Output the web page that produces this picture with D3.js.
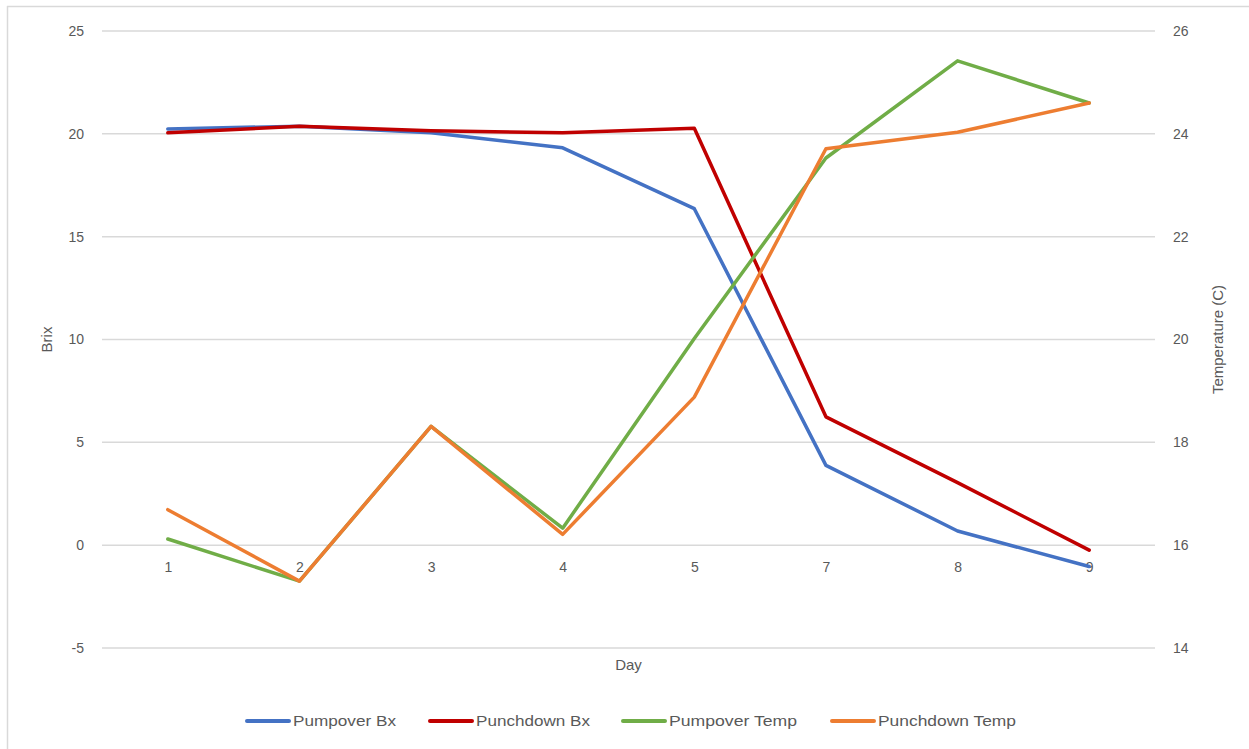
<!DOCTYPE html>
<html>
<head>
<meta charset="utf-8">
<script src="https://cdn.jsdelivr.net/npm/d3@7"></script>
<style>
  html, body { margin: 0; padding: 0; background: #fff; }
  svg { display: block; font-family: "Liberation Sans", Arial, sans-serif; }
</style>
</head>
<body>
<svg id="chart" width="1249" height="749"></svg>
<script>
// Fermentation log: sugar (Brix) and must temperature by day
const days = ["1", "2", "3", "4", "5", "7", "8", "9"];
const pumpoverBx = [20.24, 20.37, 20.05, 19.32, 16.36, 3.88, 0.69, -1.04];
const punchdownBx = [20.05, 20.37, 20.15, 20.05, 20.27, 6.24, 3.04, -0.24];
const pumpoverTemp = [16.12, 15.30, 18.31, 16.33, 20.02, 23.53, 25.42, 24.60];
const punchdownTemp = [16.69, 15.30, 18.31, 16.21, 18.88, 23.71, 24.03, 24.60];
const brixTicks = [-5, 0, 5, 10, 15, 20, 25];
const tempTicks = [14, 16, 18, 20, 22, 24, 26];

const series = [
  { name: "Pumpover Bx", values: pumpoverBx, axis: "left", color: "#4472C4" },
  { name: "Punchdown Bx", values: punchdownBx, axis: "left", color: "#C00000" },
  { name: "Pumpover Temp", values: pumpoverTemp, axis: "right", color: "#70AD47" },
  { name: "Punchdown Temp", values: punchdownTemp, axis: "right", color: "#ED7D31" }
];

const svg = d3.select("#chart");
const plot = { left: 102, right: 1155, top: 31, bottom: 648 };
const textColor = "#595959";
const gridColor = "#d9d9d9";
const plain = d => String(d);

// Chart frame edges
svg.append("line").attr("x1", 7.5).attr("x2", 7.5).attr("y1", 6).attr("y2", 749)
  .attr("stroke", gridColor).attr("stroke-width", 1.5);
svg.append("line").attr("x1", 7).attr("x2", 1249).attr("y1", 6.5).attr("y2", 6.5)
  .attr("stroke", gridColor).attr("stroke-width", 1.5);

const x = d3.scalePoint().domain(days).range([plot.left, plot.right]).padding(0.5);
const yL = d3.scaleLinear().domain([-5, 25]).range([plot.bottom, plot.top]);
const yR = d3.scaleLinear().domain([14, 26]).range([plot.bottom, plot.top]);

// Horizontal gridlines
svg.append("g").selectAll("line").data(brixTicks).join("line")
  .attr("x1", plot.left).attr("x2", plot.right)
  .attr("y1", d => yL(d)).attr("y2", d => yL(d))
  .attr("stroke", gridColor).attr("stroke-width", 1.5);

// Left axis (Brix)
const leftAxis = svg.append("g")
  .attr("transform", `translate(${plot.left},0)`)
  .call(d3.axisLeft(yL).tickValues(brixTicks).tickFormat(plain).tickSize(0).tickPadding(18));
leftAxis.select(".domain").remove();
leftAxis.selectAll("text").attr("fill", textColor).style("font-size", "14px")
  .attr("font-family", "Liberation Sans, Arial, sans-serif");

// Right axis (Temperature)
const rightAxis = svg.append("g")
  .attr("transform", `translate(${plot.right},0)`)
  .call(d3.axisRight(yR).tickValues(tempTicks).tickFormat(plain).tickSize(0).tickPadding(18));
rightAxis.select(".domain").remove();
rightAxis.selectAll("text").attr("fill", textColor).style("font-size", "14px")
  .attr("font-family", "Liberation Sans, Arial, sans-serif");

// Category axis labels sit on the zero line
const bottomAxis = svg.append("g")
  .attr("transform", `translate(0,${yL(0)})`)
  .call(d3.axisBottom(x).tickSize(0).tickPadding(17));
bottomAxis.select(".domain").remove();
bottomAxis.selectAll("text").attr("fill", textColor).style("font-size", "14px")
  .attr("font-family", "Liberation Sans, Arial, sans-serif");

// Axis titles
svg.append("text").attr("transform", `translate(52,${(plot.top + plot.bottom) / 2}) rotate(-90)`)
  .attr("text-anchor", "middle").attr("fill", textColor).style("font-size", "15px")
  .text("Brix");
svg.append("text").attr("transform", `translate(1223,${(plot.top + plot.bottom) / 2}) rotate(-90)`)
  .attr("text-anchor", "middle").attr("fill", textColor).style("font-size", "15px")
  .text("Temperature (C)");
svg.append("text").attr("x", (plot.left + plot.right) / 2).attr("y", 670)
  .attr("text-anchor", "middle").attr("fill", textColor).style("font-size", "15px")
  .text("Day");

// Series lines
series.forEach(s => {
  const y = s.axis === "left" ? yL : yR;
  const line = d3.line().x((d, i) => x(days[i])).y(d => y(d));
  svg.append("path").datum(s.values)
    .attr("d", line)
    .attr("fill", "none")
    .attr("stroke", s.color)
    .attr("stroke-width", 3.5)
    .attr("stroke-linejoin", "round")
    .attr("stroke-linecap", "round");
});

// Legend
const legendX = [247, 430, 623, 832];
const legendW = [103, 114, 128, 138];
const legend = svg.append("g").attr("transform", "translate(0,721)");
series.forEach((s, i) => {
  legend.append("line")
    .attr("x1", legendX[i]).attr("x2", legendX[i] + 42)
    .attr("y1", 0).attr("y2", 0)
    .attr("stroke", s.color).attr("stroke-width", 4).attr("stroke-linecap", "round");
  legend.append("text")
    .attr("x", legendX[i] + 46).attr("y", 5)
    .attr("fill", textColor).style("font-size", "15px")
    .attr("textLength", legendW[i]).attr("lengthAdjust", "spacingAndGlyphs")
    .text(s.name);
});
</script>
</body>
</html>
